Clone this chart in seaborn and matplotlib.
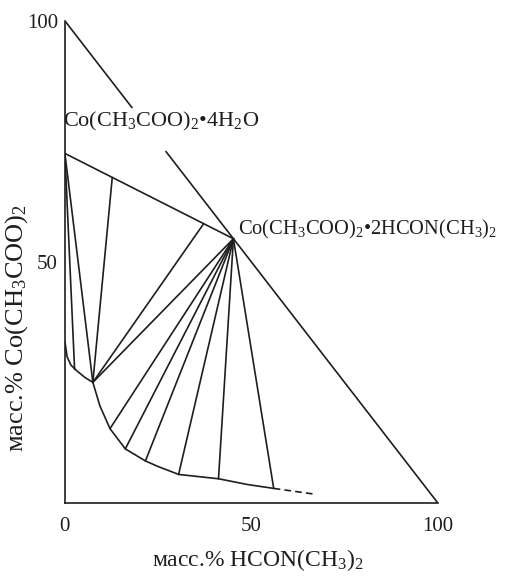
import numpy as np
import pandas as pd
import matplotlib
matplotlib.use("Agg")
import matplotlib.pyplot as plt
import seaborn as sns

# solubility curve (mass %: x = HCON(CH3)2, y = Co(CH3COO)2)
left_x = [0, 0.6, 1.6, 3.2, 5.4, 7.5]
left_y = [33.5, 30.3, 28.6, 27.4, 26.0, 25.0]
right_x = [7.5, 9.4, 12.1, 16.2, 21.6, 24.8, 30.5, 36.4, 41.2, 49.0, 56.0]
right_y = [25.0, 20.1, 15.4, 11.2, 8.7, 7.6, 5.9, 5.4, 5.0, 3.8, 3.0]
dash_x = [56.0, 67.0]
dash_y = [3.0, 1.8]

# solid phases
hydrate = (0, 72.5)      # Co(CH3COO)2*4H2O
compound = (45.2, 54.8)  # Co(CH3COO)2*2HCON(CH3)2
eutonic = (7.5, 25.0)

# tie lines: start and end points
tie_x0 = [0, 0, 0, 12.7, 37.2, 45.2, 45.2, 45.2, 45.2, 45.2, 45.2, 45.2]
tie_y0 = [72.5, 72.5, 72.5, 67.5, 57.9, 54.8, 54.8, 54.8, 54.8, 54.8, 54.8, 54.8]
tie_x1 = [45.2, 2.6, 7.5, 7.5, 7.5, 7.5, 12.1, 16.2, 21.6, 30.5, 41.2, 56.0]
tie_y1 = [54.8, 27.7, 25.0, 25.0, 25.0, 25.0, 15.4, 11.2, 8.7, 5.9, 5.0, 3.0]

# hypotenuse, broken where the hydrate label sits
hyp_x0 = [0, 27.1]
hyp_y0 = [100, 72.9]
hyp_x1 = [18.0, 100]
hyp_y1 = [82.0, 0]

x_ticks = [0, 50, 100]
y_ticks = [50, 100]

sns.set_style("white")
plt.rcParams["font.family"] = ["Liberation Serif", "DejaVu Serif"]
plt.rcParams["mathtext.fontset"] = "custom"
plt.rcParams["mathtext.rm"] = "Liberation Serif"
plt.rcParams["mathtext.default"] = "regular"

ink = "#1e1e1e"
lw = 1.2

fig = plt.figure(figsize=(5.15, 5.8), dpi=100)
ax = fig.add_axes([0.126, 0.133, 0.724, 0.831])

seg_rows = []
n = 0
for xs, ys, xe, ye in zip(tie_x0 + hyp_x0, tie_y0 + hyp_y0, tie_x1 + hyp_x1, tie_y1 + hyp_y1):
    seg_rows.append((n, xs, ys))
    seg_rows.append((n, xe, ye))
    n += 1
segs = pd.DataFrame(seg_rows, columns=["seg", "x", "y"])
sns.lineplot(data=segs, x="x", y="y", units="seg", estimator=None, sort=False,
             color=ink, lw=lw, ax=ax, legend=False)

curve = pd.DataFrame({"x": left_x + right_x, "y": left_y + right_y})
sns.lineplot(data=curve, x="x", y="y", sort=False, estimator=None,
             color=ink, lw=lw, ax=ax)
sns.lineplot(x=dash_x, y=dash_y, sort=False, estimator=None,
             color=ink, lw=lw, ax=ax, dashes=False, linestyle=(0, (4, 2.5)))

ax.set_xlim(0, 100)
ax.set_ylim(0, 100)
sns.despine(ax=ax)
for side in ["left", "bottom"]:
    ax.spines[side].set_color(ink)
    ax.spines[side].set_linewidth(lw)

ax.set_xticks(x_ticks)
ax.set_yticks(y_ticks)
ax.tick_params(axis="both", direction="out", length=4, width=1, color=ink,
               labelsize=15, labelcolor=ink)
ax.tick_params(axis="x", pad=6)
ax.tick_params(axis="y", pad=1)
ax.set_xlabel("")
ax.set_ylabel("")

ax.text(-0.5, 79.1, "Co(CH$_3$COO)$_2$•4H$_2$O", fontsize=16, color=ink,
        ha="left", va="center", clip_on=False)
ax.text(46.4, 56.8, "Co(CH$_3$COO)$_2$•2HCON(CH$_3$)$_2$", fontsize=14.8, color=ink,
        ha="left", va="center", clip_on=False)

fig.text(0.50, 0.034, "масс.% HCON(CH$_3$)$_2$", fontsize=17, color=ink,
         ha="center", va="center")
fig.text(0.033, 0.435, "масс.% Co(CH$_3$COO)$_2$", fontsize=19, color=ink,
         rotation=90, ha="center", va="center")

fig.savefig("out.png", dpi=100)
